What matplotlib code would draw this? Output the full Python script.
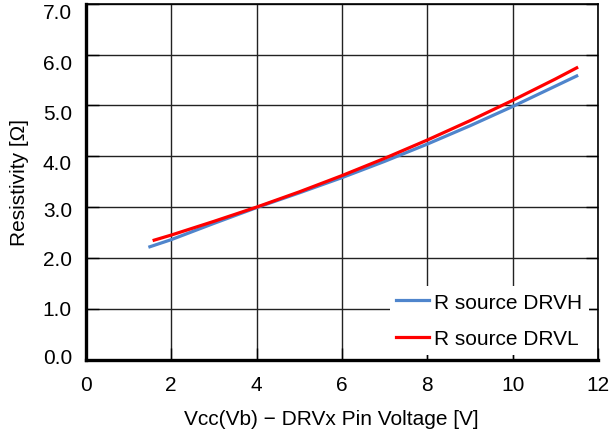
import numpy as np
import matplotlib.pyplot as plt
import matplotlib.transforms as mtransforms

plt.rcParams['font.family'] = ['Liberation Sans', 'DejaVu Sans']

# datos
v_h = [1.5, 2, 3, 4, 5, 6, 7, 8, 9, 10, 11, 11.5]
r_h = [2.22, 2.36, 2.68, 2.99, 3.28, 3.58, 3.9, 4.24, 4.6, 4.98, 5.38, 5.58]
v_l = [1.6, 2, 3, 4, 5, 6, 7, 8, 9, 10, 11, 11.5]
r_l = [2.35, 2.45, 2.72, 3.0, 3.3, 3.62, 3.96, 4.32, 4.7, 5.1, 5.52, 5.74]
y_ticks = [0, 1, 2, 3, 4, 5, 6, 7]
x_ticks = [0, 2, 4, 6, 8, 10, 12]

fig = plt.figure(figsize=(6.09, 4.35), dpi=100)
ax = fig.add_axes([0.141, 0.171, 0.841, 0.818])

ax.plot(v_h, r_h, color='#4f85cc', lw=2.3, label='R source DRVH')
ax.plot(v_l, r_l, color='#ff0000', lw=2.3, label='R source DRVL')

ax.set_xlim(0, 12)
ax.set_ylim(0, 7)
ax.set_xticks(x_ticks)
ax.set_yticks(y_ticks)
ax.set_yticklabels([f'{v:.1f}' for v in y_ticks])
ax.grid(True, color='#222222', lw=1)
ax.set_axisbelow(True)
for s in ['left', 'bottom']:
    ax.spines[s].set_linewidth(2.4)
for s in ['top', 'right']:
    ax.spines[s].set_linewidth(1.2)
ax.tick_params(direction='in', length=9, width=1, labelsize=15, top=False, right=True)
ax.tick_params(axis='x', pad=11)
ax.tick_params(axis='y', pad=10)

# las etiquetas del eje y en la original no caen justo sobre la linea
desp = [4, 1, 0, -1.5, -5, -6, -7, -7]
for lab, d in zip(ax.get_yticklabels(), desp):
    lab.set_transform(lab.get_transform() + mtransforms.ScaledTranslation(0, d / 100, fig.dpi_scale_trans))

ax.set_xlabel('Vcc(Vb) \u2212 DRVx Pin Voltage [V]', fontsize=15, labelpad=11)
ax.xaxis.label.set_x(0.48)
ax.set_ylabel('Resistivity [\u03a9]', fontsize=15, labelpad=10)

leg = ax.legend(loc='lower right', bbox_to_anchor=(0.982, 0.014), fontsize=15,
                frameon=True, fancybox=False, handlelength=1.6, handletextpad=0.25,
                borderaxespad=0, labelspacing=0.85, borderpad=0.3)
leg.get_frame().set_edgecolor('none')
leg.get_frame().set_alpha(1)

fig.savefig('out.png', dpi=100)
